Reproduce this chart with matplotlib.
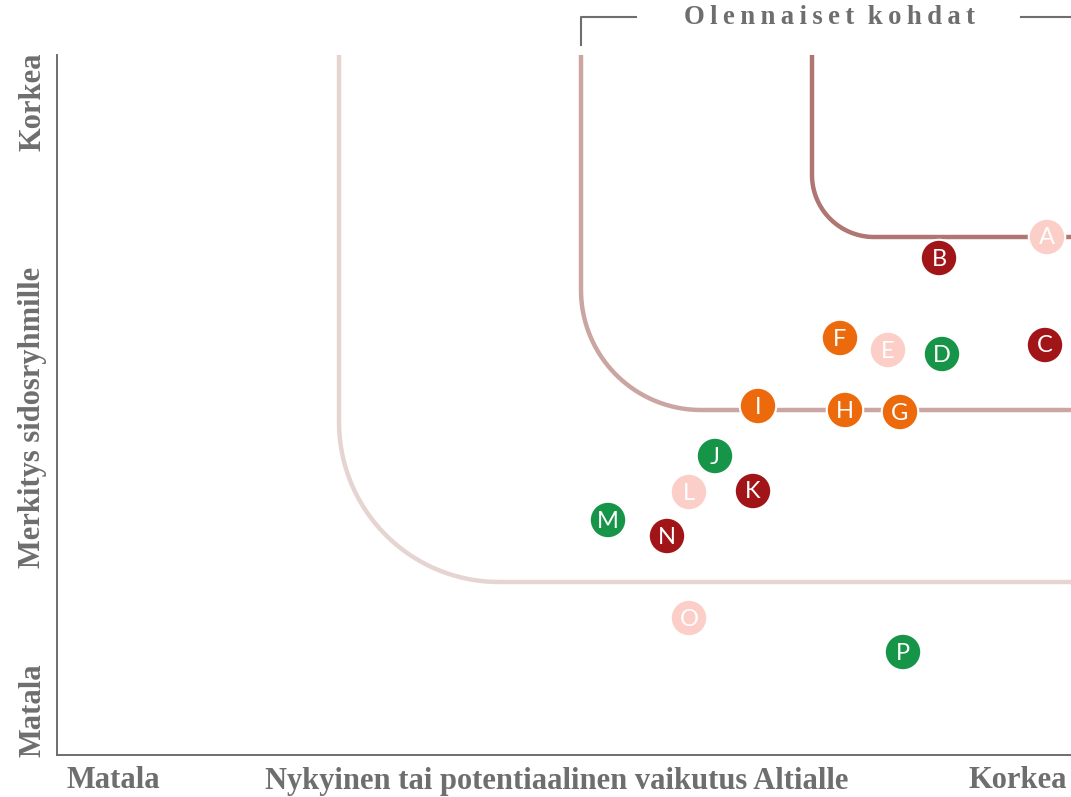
import numpy as np
import matplotlib
matplotlib.use("Agg")
import matplotlib.pyplot as plt

# ── Data (axes units: x 0..1014, y 0..700, origin bottom-left) ────────────
labels = ["A", "B", "C", "D", "E", "F", "G", "H",
          "I", "J", "K", "L", "M", "N", "O", "P"]
impact = [990, 882, 988, 885, 831, 783, 843, 788,
          701, 658, 696, 632, 551, 610, 632, 846]
relevance = [518, 497, 410, 401, 405, 417, 343, 345,
             349, 299, 264, 263, 235, 219, 137, 103]
groups = ["pink", "red", "red", "green", "pink", "orange", "orange", "orange",
          "orange", "green", "red", "pink", "green", "red", "pink", "green"]

# threshold curves: vertical x, horizontal y, corner radius
curve_x = [282, 524, 755]
curve_y = [173, 345, 518]
curve_r = [160, 120, 62]
curve_colors = ["#E6D4D2", "#CBA5A2", "#B07672"]

group_colors = {"red": "#A11417", "green": "#169447",
                "orange": "#EC6A0B", "pink": "#FBCEC8"}

GRAY = "#6E6E6E"
SERIF = ["Liberation Serif", "DejaVu Serif"]

fig = plt.figure(figsize=(10.71, 7.97), dpi=100)
ax = fig.add_axes([57 / 1071, 42 / 797, 1014 / 1071, 700 / 797])
ax.set_xlim(0, 1014)
ax.set_ylim(0, 700)

# ── Curves ────────────────────────────────────────────────────────────────
for cx, cy, r, col in zip(curve_x, curve_y, curve_r, curve_colors):
    t = np.linspace(np.pi, 1.5 * np.pi, 40)
    arc_x = cx + r + r * np.cos(t)
    arc_y = cy + r + r * np.sin(t)
    xs = np.concatenate([[cx], arc_x, [1014]])
    ys = np.concatenate([[700], arc_y, [cy]])
    ax.plot(xs, ys, color=col, lw=3.2, solid_capstyle="butt", zorder=1)

# ── Points ────────────────────────────────────────────────────────────────
cols = [group_colors[g] for g in groups]
ax.scatter(impact, relevance, s=690, c=cols, edgecolors="white",
           linewidths=1.5, zorder=3)
for lab, x, y in zip(labels, impact, relevance):
    ax.text(x, y - 1, lab, color="white", fontsize=17, family="Lato",
            ha="center", va="center", zorder=4)

# ── Axes styling ──────────────────────────────────────────────────────────
for side in ["top", "right"]:
    ax.spines[side].set_visible(False)
for side in ["left", "bottom"]:
    ax.spines[side].set_color(GRAY)
    ax.spines[side].set_linewidth(1.4)
ax.set_xticks([])
ax.set_yticks([])

lab_kw = dict(family=SERIF, fontweight="bold", color=GRAY, fontsize=22)
fig.text(113 / 1071, 1 - 781 / 797, "Matala", ha="center", va="center", **lab_kw)
fig.text(557 / 1071, 1 - 781 / 797, "Nykyinen tai potentiaalinen vaikutus Altialle",
         ha="center", va="center", **lab_kw)
fig.text(1067 / 1071, 1 - 781 / 797, "Korkea", ha="right", va="center", **lab_kw)
fig.text(33 / 1071, 1 - 102 / 797, "Korkea", rotation=90, ha="center", va="center", **lab_kw)
fig.text(33 / 1071, 1 - 417 / 797, "Merkitys sidosryhmille", rotation=90,
         ha="center", va="center", **lab_kw)
fig.text(33 / 1071, 1 - 710 / 797, "Matala", rotation=90, ha="center", va="center", **lab_kw)

# ── Title bracket ─────────────────────────────────────────────────────────
def fy(py):
    return 1 - py / 797

fig.add_artist(plt.Line2D([581 / 1071, 581 / 1071, 636 / 1071], [fy(45), fy(17), fy(17)],
                          color=GRAY, lw=1.5))
fig.add_artist(plt.Line2D([1021 / 1071, 1.0], [fy(17), fy(17)], color=GRAY, lw=1.5))
fig.text(829 / 1071, fy(18), "O l e n n a i s e t   k o h d a t".replace(" ", "\u2009").replace("\u2009\u2009\u2009", "  "),
         ha="center", va="center", family=SERIF, fontweight="bold", color=GRAY, fontsize=19.3)

fig.savefig("out.png", dpi=100)
